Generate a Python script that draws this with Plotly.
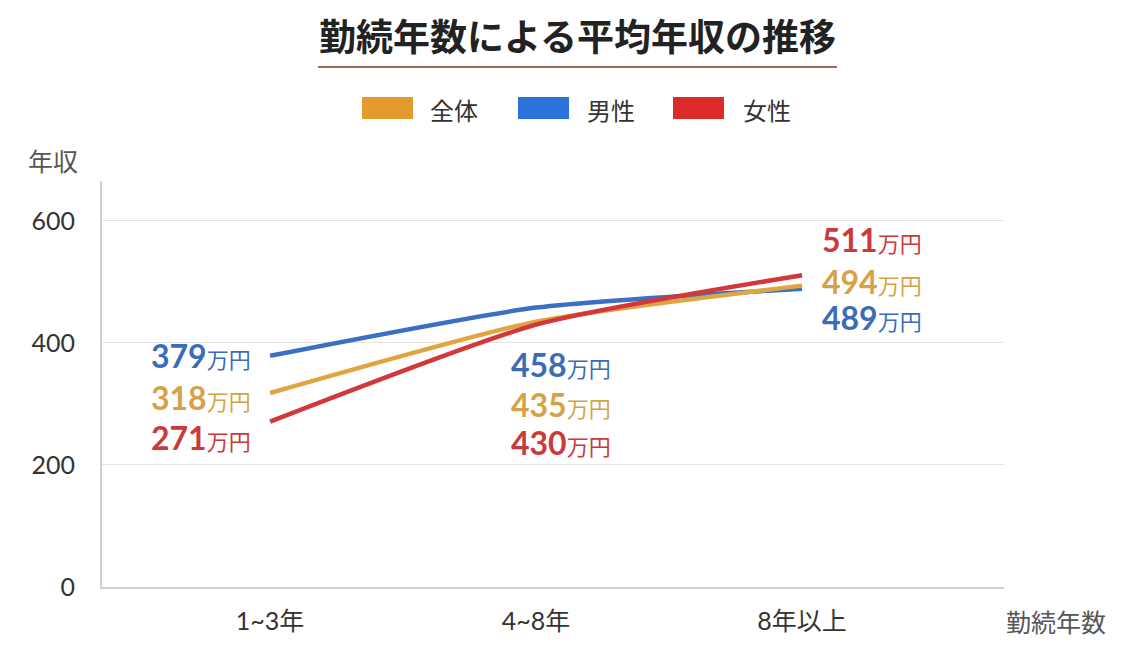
import plotly.graph_objects as go

categories = ["1~3年", "4~8年", "8年以上"]
series_names = ["全体", "男性", "女性"]
zentai = [318, 435, 494]
dansei = [379, 458, 489]
josei = [271, 430, 511]

title_text = "勤続年数による平均年収の推移"
y_title = "年収"
x_title = "勤続年数"
y_ticks = [0, 200, 400, 600]
unit = "万円"

FONT = "Lato, 'Noto Sans CJK JP', sans-serif"
JFONT = "'Noto Sans CJK JP', Lato, sans-serif"

line_colors = {"全体": "#DFA540", "男性": "#3A6FC2", "女性": "#D2373A"}
label_colors = {"全体": "#D6A248", "男性": "#3B6CB6", "女性": "#C93A3D"}
legend_colors = {"全体": "#E39B2E", "男性": "#2B73D9", "女性": "#DD2B2B"}

values = {"全体": zentai, "男性": dansei, "女性": josei}

# label placement (pixel offsets from the point, per category)
label_xanchor = ["right", "left", "left"]
label_xshift = [-17, -27, 18]
label_yshift = {
    "男性": [0, -57, -29],
    "全体": [-4, -83, 4],
    "女性": [-16, -118, 36],
}

fig = go.Figure()
x_idx = list(range(len(categories)))
for name in ["男性", "全体", "女性"]:
    fig.add_trace(go.Scatter(
        x=x_idx, y=values[name], mode="lines", name=name,
        line=dict(color=line_colors[name], width=4.5, shape="spline", smoothing=0.6),
        showlegend=False, hoverinfo="skip",
    ))

annotations = []
for name in ["男性", "全体", "女性"]:
    for i, v in enumerate(values[name]):
        annotations.append(dict(
            x=i, y=v, xref="x", yref="y",
            text=f"<b>{v}</b><span style='font-size:22px'>{unit}</span>",
            showarrow=False, xanchor=label_xanchor[i], yanchor="middle",
            xshift=label_xshift[i], yshift=label_yshift[name][i],
            font=dict(family=FONT, size=32, color=label_colors[name]),
        ))

L, R, T, B = 102, 136, 181, 59
W, H = 1140, 646
pw, ph = W - L - R, H - T - B

def px_to_paper(px, py):
    return (px - L) / pw, (H - B - py) / ph

# title
tx, ty = px_to_paper(577, 35)
annotations.append(dict(
    x=tx, y=ty, xref="paper", yref="paper", text=f"<b>{title_text}</b>",
    showarrow=False, xanchor="center", yanchor="middle",
    font=dict(family=JFONT, size=37, color="#222222"),
))

# axis titles
yx, yy = px_to_paper(53, 160)
annotations.append(dict(
    x=yx, y=yy, xref="paper", yref="paper",
    text=y_title, showarrow=False, xanchor="center", yanchor="middle",
    font=dict(family=JFONT, size=25, color="#555555"),
))
xx, xy = px_to_paper(1004, 621)
annotations.append(dict(
    x=xx, y=xy, xref="paper", yref="paper",
    text=x_title, showarrow=False, xanchor="left", yanchor="middle",
    font=dict(family=JFONT, size=25, color="#555555"),
))

shapes = []
# title underline
ux0, uy = px_to_paper(318, 67)
ux1, _ = px_to_paper(837, 67)
shapes.append(dict(type="line", xref="paper", yref="paper", x0=ux0, x1=ux1, y0=uy, y1=uy,
                   line=dict(color="#7E3434", width=1.5)))

# manual legend
legend_layout = [(362, 428), (518, 585), (673, 741)]
for name, (rx, tx_) in zip(series_names, legend_layout):
    x0, y0 = px_to_paper(rx, 119)
    x1, y1 = px_to_paper(rx + 51, 97)
    shapes.append(dict(type="rect", xref="paper", yref="paper", x0=x0, x1=x1, y0=y0, y1=y1,
                       fillcolor=legend_colors[name], line=dict(width=0)))
    lx, ly = px_to_paper(tx_, 109)
    annotations.append(dict(x=lx, y=ly, xref="paper", yref="paper", text=name,
                            showarrow=False, xanchor="left", yanchor="middle",
                            font=dict(family=JFONT, size=24, color="#333333")))

fig.update_layout(
    width=W, height=H,
    margin=dict(l=L, r=R, t=T, b=B, pad=0, autoexpand=False),
    plot_bgcolor="white", paper_bgcolor="white",
    annotations=annotations, shapes=shapes,
    showlegend=False,
    font=dict(family=FONT, color="#333333"),
)
fig.update_xaxes(
    tickmode="array", tickvals=x_idx, ticktext=categories,
    range=[-0.632, 2.759], showgrid=False, zeroline=False,
    showline=True, linecolor="#CFCFCF", linewidth=2,
    ticks="", tickfont=dict(family=FONT, size=25, color="#333333"),
    ticklabelstandoff=11, automargin=False,
)
fig.update_yaxes(
    tickmode="array", tickvals=y_ticks, range=[0, 665.5],
    showgrid=True, gridcolor="#E3E3E3", gridwidth=1, zeroline=False,
    showline=True, linecolor="#CFCFCF", linewidth=2,
    ticks="", tickfont=dict(family=FONT, size=25, color="#333333"),
    ticklabelstandoff=20, automargin=False,
)

fig.write_html(
    "out.html",
    config={"displayModeBar": False},
    post_script="document.body.style.margin='0';document.body.style.padding='0';",
)
